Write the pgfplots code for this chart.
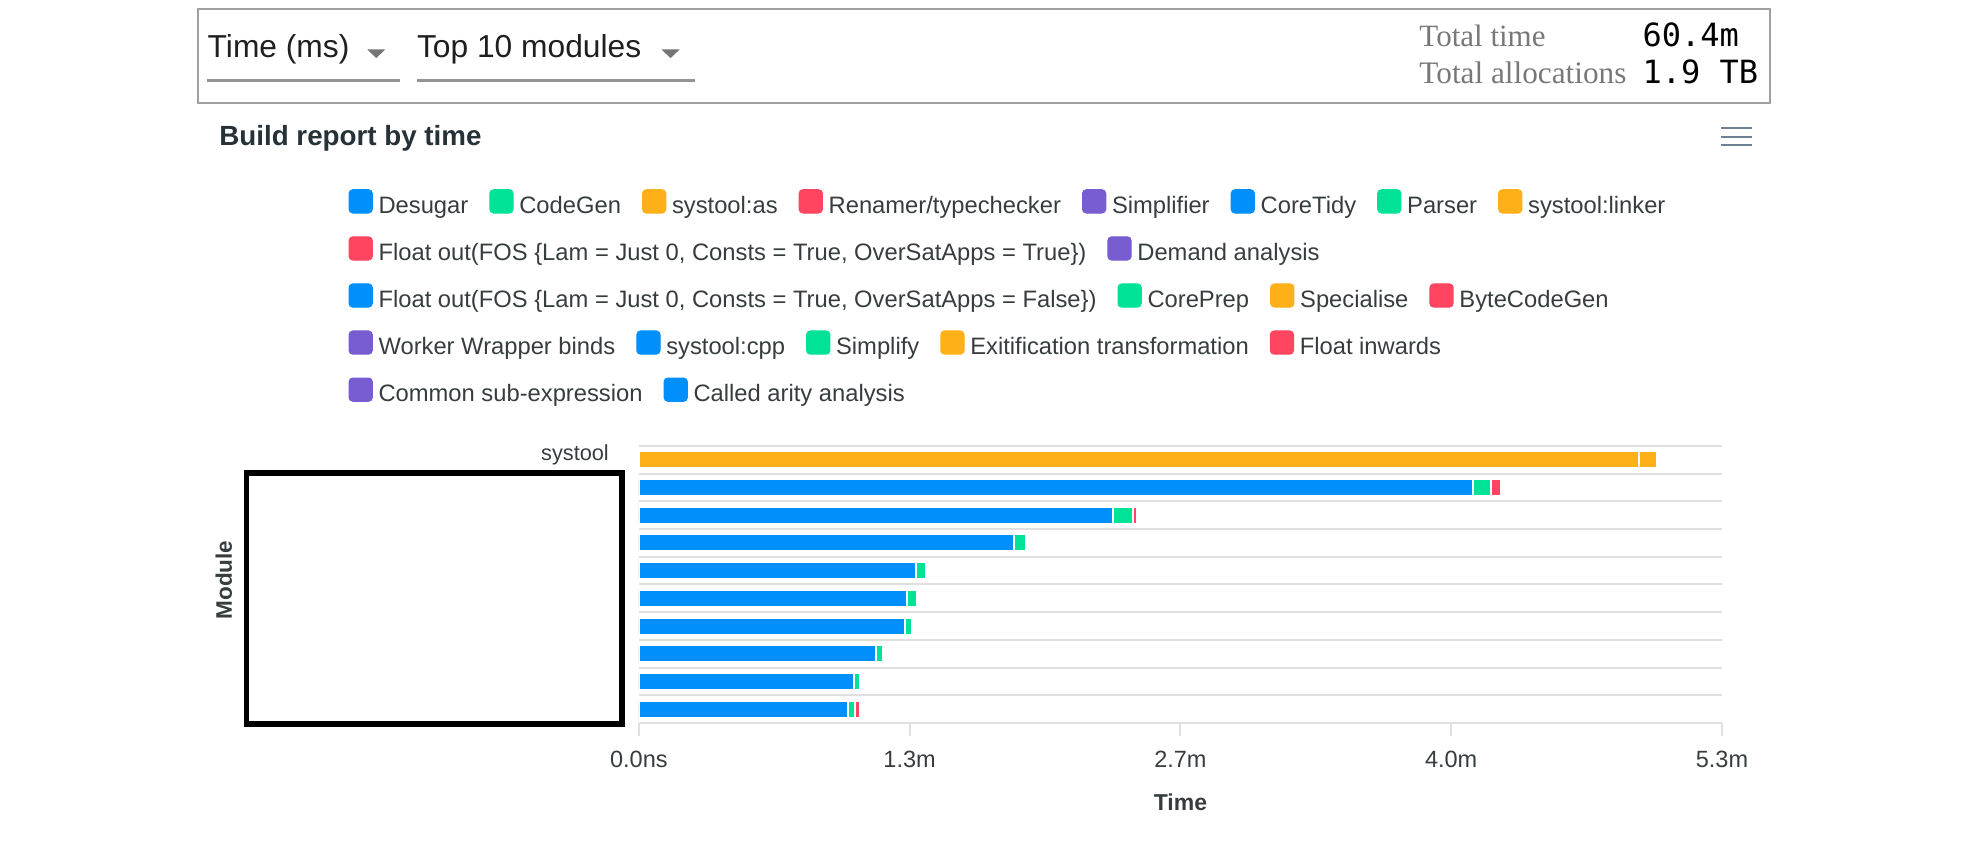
\documentclass[border=0pt]{standalone}
\usepackage{pgfplots}
\pgfplotsset{compat=1.18}
\usepackage{fontspec}
\setmainfont{Liberation Sans}
\newfontfamily\seriffont{Liberation Serif}
\newfontfamily\monofont{DejaVu Sans Mono}

\definecolor{cBlue}{HTML}{008FFB}
\definecolor{cGreen}{HTML}{00E396}
\definecolor{cOrange}{HTML}{FEB019}
\definecolor{cRed}{HTML}{FF4560}
\definecolor{cPurple}{HTML}{775DD0}
\definecolor{cText}{HTML}{373D3F}
\definecolor{cTitle}{HTML}{263238}
\definecolor{cGrid}{HTML}{E0E0E0}
\definecolor{cBox}{HTML}{A0A0A0}
\definecolor{cLine}{HTML}{949494}
\definecolor{cArrow}{HTML}{757575}
\definecolor{cMenu}{HTML}{6E8192}
\definecolor{cSerif}{HTML}{787878}

% one legend row = one hidden axis (the legend flows over several rows)
\pgfplotsset{
  legendrow/.style={
    hide axis, scale only axis, width=1pt, height=1pt,
    xmin=0, xmax=1, ymin=0, ymax=1,
    anchor=south west,
    legend columns=-1,
    legend cell align=left,
    legend image code/.code={\fill[##1,rounded corners=1.5pt] (0pt,-3.15pt) rectangle (9.3pt,6.15pt);},
    legend style={draw=none, fill=none, inner sep=0pt, at={(0,0)}, anchor=west,
      font=\fontsize{9.5}{11}\selectfont,
      nodes={inner sep=0pt, text height=8.3pt, text depth=2pt, text=cText},
      /tikz/every odd column/.append style={column sep=2.3pt},
      /tikz/every even column/.append style={column sep=8.4pt}},
  },
  seg/.style={fill=#1, draw=white, line width=0.8pt},
}

\begin{document}
\begin{tikzpicture}
\useasboundingbox (0pt,0pt) rectangle (787.1pt,-345.2pt);

% header controls
\begin{scope}[x=0.502pt,y=-0.502pt]
  \draw[cBox, line width=0.8pt] (157.8,7) rectangle (1410,82);
  \node[anchor=base west, inner sep=0pt, font=\fontsize{12.7}{15}\selectfont, text=black!88] at (165.1,45.8) {Time (ms)};
  \fill[cArrow] (292.6,39.4) -- (306.9,39.4) -- (299.75,46.3) -- cycle;
  \draw[cLine, line width=0.9pt] (165.1,64.1) -- (318.5,64.1);
  \node[anchor=base west, inner sep=0pt, font=\fontsize{12.7}{15}\selectfont, text=black!88] at (331.9,45.8) {Top 10 modules};
  \fill[cArrow] (527,39.4) -- (541.5,39.4) -- (534.25,46.3) -- cycle;
  \draw[cLine, line width=0.9pt] (331.9,64.1) -- (553.9,64.1);
  \node[anchor=base west, inner sep=0pt, font=\seriffont\fontsize{12.4}{15}\selectfont, text=cSerif] at (1130.5,37.2) {Total time};
  \node[anchor=base west, inner sep=0pt, font=\seriffont\fontsize{12.5}{15}\selectfont, text=cSerif] at (1130.5,66.4) {Total allocations};
  \node[anchor=base west, inner sep=0pt, font=\monofont\fontsize{12.8}{15}\selectfont] at (1308.3,37.2) {60.4m};
  \node[anchor=base west, inner sep=0pt, font=\monofont\fontsize{12.8}{15}\selectfont] at (1308.3,66.4) {1.9 TB};
  \node[anchor=base west, inner sep=0pt, font=\bfseries\fontsize{11.1}{13}\selectfont, text=cTitle] at (174.4,116.3) {Build report by time};
  \foreach \yy in {102.2,108.9,115.5}
    \draw[cMenu, line width=0.85pt] (1371,\yy) -- (1395.6,\yy);
\end{scope}

% legend rows
\begin{axis}[legendrow, at={(139.2pt,-81.44pt)}]
  \addlegendimage{cBlue}\addlegendentry{Desugar}
  \addlegendimage{cGreen}\addlegendentry{CodeGen}
  \addlegendimage{cOrange}\addlegendentry{systool:as}
  \addlegendimage{cRed}\addlegendentry{Renamer/typechecker}
  \addlegendimage{cPurple}\addlegendentry{Simplifier}
  \addlegendimage{cBlue}\addlegendentry{CoreTidy}
  \addlegendimage{cGreen}\addlegendentry{Parser}
  \addlegendimage{cOrange}\addlegendentry{systool:linker}
\end{axis}
\begin{axis}[legendrow, at={(139.2pt,-100.26pt)}]
  \addlegendimage{cRed}\addlegendentry{Float out(FOS \{Lam = Just 0, Consts = True, OverSatApps = True\})}
  \addlegendimage{cPurple}\addlegendentry{Demand analysis}
\end{axis}
\begin{axis}[legendrow, at={(139.2pt,-119.09pt)}]
  \addlegendimage{cBlue}\addlegendentry{Float out(FOS \{Lam = Just 0, Consts = True, OverSatApps = False\})}
  \addlegendimage{cGreen}\addlegendentry{CorePrep}
  \addlegendimage{cOrange}\addlegendentry{Specialise}
  \addlegendimage{cRed}\addlegendentry{ByteCodeGen}
\end{axis}
\begin{axis}[legendrow, at={(139.2pt,-137.91pt)}]
  \addlegendimage{cPurple}\addlegendentry{Worker Wrapper binds}
  \addlegendimage{cBlue}\addlegendentry{systool:cpp}
  \addlegendimage{cGreen}\addlegendentry{Simplify}
  \addlegendimage{cOrange}\addlegendentry{Exitification transformation}
  \addlegendimage{cRed}\addlegendentry{Float inwards}
\end{axis}
\begin{axis}[legendrow, at={(139.2pt,-156.74pt)}]
  \addlegendimage{cPurple}\addlegendentry{Common sub-expression}
  \addlegendimage{cBlue}\addlegendentry{Called arity analysis}
\end{axis}

% the chart
\begin{axis}[
  at={(255.5pt,-289.2pt)}, anchor=south west,
  scale only axis, width=433.2pt, height=110.9pt,
  xbar stacked, bar width=6.8pt,
  xmin=0, xmax=5.3, ymin=-0.5, ymax=9.5, y dir=reverse,
  enlargelimits=false,
  axis line style={draw=none},
  tick align=outside, xtick pos=left,
  major tick length=5pt, minor tick length=0pt,
  xtick={0,1.325,2.65,3.975,5.3},
  xticklabels={0.0ns,1.3m,2.7m,4.0m,5.3m},
  xtick style={draw=cGrid, line width=0.8pt},
  ytick={0}, yticklabels={systool},
  ytick style={draw=none},
  minor ytick={-0.5,0.5,1.5,2.5,3.5,4.5,5.5,6.5,7.5,8.5,9.5},
  yminorgrids, minor grid style={draw=cGrid, line width=0.8pt},
  xticklabel style={anchor=base, inner sep=0pt, yshift=-12.6pt, font=\fontsize{9.4}{11}\selectfont, text=cText},
  yticklabel style={anchor=base east, inner sep=0pt, xshift=-6.8pt, yshift=-0.2pt, font=\fontsize{8.7}{10}\selectfont, text=cText},
  xlabel={Time}, ylabel={Module},
  xlabel style={at={(axis description cs:0.5,0)}, anchor=center, yshift=-31.8pt, font=\bfseries\fontsize{9.2}{11}\selectfont, text=cText},
  ylabel style={at={(axis description cs:0,0.5)}, anchor=center, xshift=1.8pt, yshift=166pt, font=\bfseries\fontsize{9}{11}\selectfont, text=cText},
]
  % Desugar
  \addplot[seg=cBlue] coordinates {(0,0) (4.082,1) (2.318,2) (1.834,3) (1.354,4) (1.313,5) (1.302,6) (1.160,7) (1.055,8) (1.023,9)};
  % CodeGen
  \addplot[seg=cGreen] coordinates {(0,0) (0.0885,1) (0.101,2) (0.061,3) (0.053,4) (0.050,5) (0.037,6) (0.035,7) (0.026,8) (0.034,9)};
  % systool:as
  \addplot[seg=cOrange] coordinates {(4.893,0) (0,1) (0,2) (0,3) (0,4) (0,5) (0,6) (0,7) (0,8) (0,9)};
  % Renamer/typechecker
  \addplot[seg=cRed] coordinates {(0,0) (0.049,1) (0.017,2) (0,3) (0,4) (0,5) (0,6) (0,7) (0,8) (0.025,9)};
  % systool:linker
  \addplot[seg=cOrange] coordinates {(0.089,0) (0,1) (0,2) (0,3) (0,4) (0,5) (0,6) (0,7) (0,8) (0,9)};
\end{axis}

% redaction box over the module names
\begin{scope}[x=0.502pt,y=-0.502pt]
  \draw[black, line width=2.2pt, fill=white] (196.5,376.8) rectangle (495.6,576.8);
\end{scope}
\end{tikzpicture}
\end{document}
